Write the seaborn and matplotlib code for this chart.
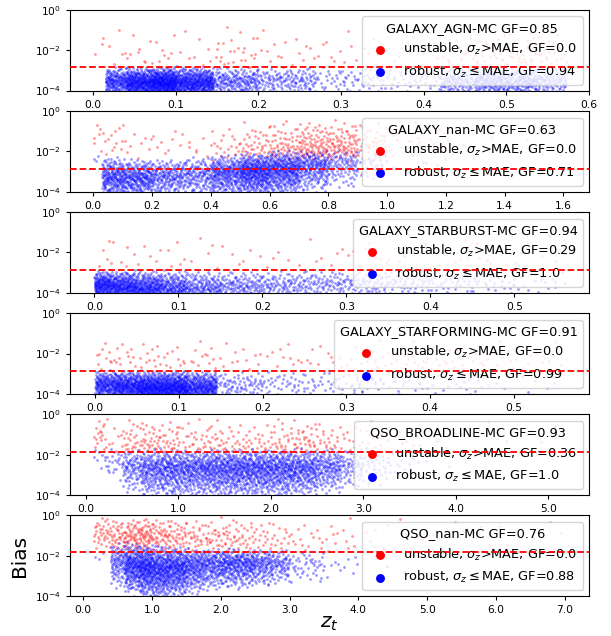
import numpy as np
import pandas as pd
import matplotlib
matplotlib.use("Agg")
import matplotlib.pyplot as plt
import seaborn as sns
from matplotlib.ticker import MultipleLocator, FormatStrFormatter

# ---------------- data (log10(bias) per z-bin) ----------------
names = ["GALAXY_AGN-MC", "GALAXY_nan-MC", "GALAXY_STARBURST-MC",
         "GALAXY_STARFORMING-MC", "QSO_BROADLINE-MC", "QSO_nan-MC"]
gf_total = ["0.85", "0.63", "0.94", "0.91", "0.93", "0.76"]
gf_unstable = ["0.0", "0.0", "0.29", "0.0", "0.36", "0.0"]
gf_robust = ["0.94", "0.71", "1.0", "0.99", "1.0", "0.88"]
mae_line = [0.0014, 0.0014, 0.0014, 0.0014, 0.014, 0.0145]

# panel 1 : GALAXY_AGN
agn_edges = [0.0, 0.015, 0.04, 0.07, 0.10, 0.145, 0.2, 0.27, 0.35, 0.42, 0.46, 0.50, 0.54, 0.572]
agn_blue_n = [0, 200, 380, 480, 500, 220, 160, 70, 50, 120, 170, 170, 90]
agn_blue_mode = [-3.5, -3.5, -3.6, -3.6, -3.6, -3.5, -3.4, -3.3, -3.3, -3.5, -3.5, -3.5, -3.5]
agn_blue_lo, agn_blue_hi = -4.6, -2.78
agn_red_n = [3, 5, 8, 8, 8, 25, 15, 15, 12, 15, 25, 30, 20]
agn_red_mode = [-1.5, -2.2, -2.5, -2.5, -2.6, -2.6, -2.5, -2.5, -2.4, -2.5, -2.5, -2.5, -2.5]
agn_red_lo, agn_red_hi = -2.85, -0.7

# panel 2 : GALAXY_nan
nan_edges = [0.0, 0.03, 0.1, 0.2, 0.3, 0.4, 0.5, 0.6, 0.7, 0.8, 0.9, 1.0, 1.2, 1.4, 1.61]
nan_blue_n = [3, 200, 260, 180, 160, 270, 400, 340, 200, 90, 30, 8, 0, 0]
nan_blue_mode = [-2.5, -3.3, -3.3, -3.2, -3.1, -3.0, -2.9, -2.8, -2.6, -2.5, -2.5, -2.6, -2.6, -2.6]
nan_blue_lo = [-2.6, -4.5, -4.5, -4.5, -4.5, -4.5, -4.5, -4.4, -4.1, -3.9, -3.6, -3.4, -3.4, -3.4]
nan_blue_hi = [-2.1, -2.2, -2.3, -2.3, -2.2, -2.1, -2.0, -1.9, -1.9, -1.9, -1.9, -2.0, -2.0, -2.0]
nan_red_n = [6, 12, 10, 8, 8, 20, 40, 60, 90, 80, 40, 25, 6, 2]
nan_red_mode = [-1.0, -1.5, -1.7, -1.8, -1.9, -2.0, -2.0, -2.0, -2.0, -1.95, -1.8, -1.7, -1.5, -1.0]
nan_red_lo, nan_red_hi = -2.5, -0.4

# panel 3 : GALAXY_STARBURST
sb_edges = [0.0, 0.02, 0.05, 0.08, 0.11, 0.15, 0.2, 0.25, 0.3, 0.35, 0.4, 0.45, 0.5, 0.565]
sb_blue_n = [220, 300, 260, 190, 170, 150, 110, 95, 80, 55, 40, 30, 20]
sb_blue_mode = [-3.6, -3.7, -3.8, -3.8, -3.8, -3.7, -3.6, -3.5, -3.5, -3.4, -3.4, -3.4, -3.4]
sb_blue_lo, sb_blue_hi = -4.6, -2.85
sb_red_n = [5, 5, 5, 5, 5, 6, 5, 6, 8, 7, 8, 8, 6]
sb_red_mode = [-2.6] * 13
sb_red_lo, sb_red_hi = -2.85, -1.0

# panel 4 : GALAXY_STARFORMING
sf_edges = [0.0, 0.02, 0.05, 0.08, 0.11, 0.145, 0.2, 0.25, 0.3, 0.35, 0.4, 0.45, 0.5, 0.56]
sf_blue_n = [180, 330, 400, 400, 330, 90, 45, 35, 28, 20, 16, 12, 6]
sf_blue_mode = [-3.5, -3.6, -3.7, -3.7, -3.7, -3.5, -3.4, -3.4, -3.3, -3.3, -3.3, -3.3, -3.3]
sf_blue_lo, sf_blue_hi = -4.6, -2.8
sf_red_n = [10, 12, 12, 10, 12, 12, 10, 10, 15, 20, 15, 15, 12]
sf_red_mode = [-2.5] * 13
sf_red_lo, sf_red_hi = -2.85, -1.2

# panel 5 : QSO_BROADLINE
bl_edges = [0.085, 0.2, 0.4, 0.6, 0.8, 1.0, 1.25, 1.5, 1.75, 2.0, 2.25, 2.5, 2.75, 3.0, 3.3, 3.6, 4.0, 4.6, 5.19]
bl_blue_n = [6, 25, 90, 150, 170, 210, 230, 240, 240, 230, 200, 140, 70, 35, 12, 2, 0, 0]
bl_blue_mode = [-2.0, -2.3, -2.5, -2.6, -2.6, -2.6, -2.6, -2.6, -2.6, -2.6, -2.6, -2.5, -2.5, -2.4, -2.4, -2.4, -2.4, -2.4]
bl_blue_lo = [-2.8, -3.3, -4.0, -4.3, -4.3, -4.3, -4.3, -4.3, -4.3, -4.3, -4.2, -4.0, -3.8, -3.6, -3.5, -3.0, -3.0, -3.0]
bl_blue_hi = -1.65
bl_red_n = [15, 10, 25, 30, 25, 20, 25, 20, 20, 25, 30, 20, 12, 10, 8, 5, 4, 4]
bl_red_mode = [-1.0, -1.6, -1.7, -1.7, -1.7, -1.7, -1.7, -1.7, -1.7, -1.6, -1.6, -1.6, -1.6, -1.6, -1.5, -1.5, -1.3, -1.0]
bl_red_lo, bl_red_hi = -1.9, -0.1

# panel 6 : QSO_nan
qn_edges = [0.15, 0.4, 0.6, 0.8, 1.0, 1.25, 1.5, 1.75, 2.0, 2.25, 2.5, 2.75, 3.0, 3.5, 4.0, 5.0, 6.0, 7.0]
qn_blue_n = [3, 90, 190, 240, 270, 240, 170, 140, 150, 140, 105, 70, 45, 10, 2, 0, 0]
qn_blue_mode = [-2.0, -2.2, -2.4, -2.5, -2.6, -2.5, -2.4, -2.3, -2.3, -2.3, -2.3, -2.3, -2.3, -2.4, -2.5, -2.5, -2.5]
qn_blue_lo = [-2.5, -3.7, -4.0, -4.2, -4.4, -4.2, -4.0, -3.8, -3.7, -3.7, -3.6, -3.5, -3.5, -3.4, -3.0, -3.0, -3.0]
qn_blue_hi = [-1.6, -1.3, -1.3, -1.35, -1.4, -1.5, -1.55, -1.6, -1.6, -1.6, -1.6, -1.65, -1.7, -1.8, -1.8, -1.8, -1.8]
qn_red_n = [35, 35, 45, 50, 45, 35, 25, 25, 25, 20, 15, 12, 15, 12, 10, 8, 6]
qn_red_mode = [-0.8, -1.1, -1.1, -1.0, -1.1, -1.2, -1.2, -1.2, -1.3, -1.3, -1.3, -1.4, -1.4, -1.3, -1.0, -0.8, -0.8]
qn_red_lo, qn_red_hi = -1.85, 0.0

panels = [
    (agn_edges, agn_blue_n, agn_blue_lo, agn_blue_mode, agn_blue_hi, agn_red_n, agn_red_lo, agn_red_mode, agn_red_hi),
    (nan_edges, nan_blue_n, nan_blue_lo, nan_blue_mode, nan_blue_hi, nan_red_n, nan_red_lo, nan_red_mode, nan_red_hi),
    (sb_edges, sb_blue_n, sb_blue_lo, sb_blue_mode, sb_blue_hi, sb_red_n, sb_red_lo, sb_red_mode, sb_red_hi),
    (sf_edges, sf_blue_n, sf_blue_lo, sf_blue_mode, sf_blue_hi, sf_red_n, sf_red_lo, sf_red_mode, sf_red_hi),
    (bl_edges, bl_blue_n, bl_blue_lo, bl_blue_mode, bl_blue_hi, bl_red_n, bl_red_lo, bl_red_mode, bl_red_hi),
    (qn_edges, qn_blue_n, qn_blue_lo, qn_blue_mode, qn_blue_hi, qn_red_n, qn_red_lo, qn_red_mode, qn_red_hi),
]


def radical_inverse(idx, base):
    idx = np.asarray(idx, dtype=np.int64).copy()
    out = np.zeros(idx.shape, float)
    f = 1.0 / base
    while np.any(idx > 0):
        out += f * (idx % base)
        idx //= base
        f /= base
    return out


def binned_cloud(edges, counts, lo, mode, hi, start):
    """Spread the read-off per-bin counts over each bin (deterministic Halton layout)."""
    nb = len(counts)
    lo = np.broadcast_to(np.asarray(lo, float), (nb,))
    mode = np.broadcast_to(np.asarray(mode, float), (nb,))
    hi = np.broadcast_to(np.asarray(hi, float), (nb,))
    xs, ys = [], []
    k = start
    for i, n in enumerate(counts):
        if n <= 0:
            continue
        j = np.arange(n) + k
        k += n + 37
        u = radical_inverse(j, 2)
        v = radical_inverse(j, 3)
        a, c, b = lo[i], mode[i], hi[i]
        fc = (c - a) / (b - a)
        ly = np.where(v < fc, a + np.sqrt(v * (b - a) * (c - a)),
                      b - np.sqrt((1 - v) * (b - a) * (b - c)))
        xs.append(edges[i] + u * (edges[i + 1] - edges[i]))
        ys.append(10.0 ** ly)
    return np.concatenate(xs), np.concatenate(ys)


xlims = [(-0.028, 0.6), (-0.079, 1.687), (-0.029, 0.589), (-0.03, 0.59), (-0.17, 5.44), (-0.19, 7.35)]
xsteps = [0.1, 0.2, 0.1, 0.1, 1.0, 1.0]

fig, axes = plt.subplots(6, 1, figsize=(6.11, 6.36), dpi=100)
fig.subplots_adjust(left=0.1146, right=0.964, top=0.9843, bottom=0.0629, hspace=0.255)

for p, ax in enumerate(axes):
    edges, bn, blo, bmode, bhi, rn, rlo, rmode, rhi = panels[p]
    rx, ry = binned_cloud(edges, rn, rlo, rmode, rhi, 11 + 3000 * p)
    bx, by = binned_cloud(edges, bn, blo, bmode, bhi, 40000 + 9000 * p)
    red_df = pd.DataFrame({"z": rx, "bias": ry})
    blue_df = pd.DataFrame({"z": bx, "bias": by})
    sns.scatterplot(data=red_df, x="z", y="bias", ax=ax, color="red", s=4, alpha=0.4,
                    linewidth=0, label=f"unstable, $\\sigma_z$>MAE, GF={gf_unstable[p]}")
    sns.scatterplot(data=blue_df, x="z", y="bias", ax=ax, color="blue", s=4, alpha=0.4,
                    linewidth=0, label=f"robust, $\\sigma_z\\leq$MAE, GF={gf_robust[p]}")
    ax.axhline(mae_line[p], color="red", ls="--", lw=1.3, zorder=10)
    ax.set_yscale("log")
    ax.set_ylim(1e-4, 1)
    ax.set_xlim(*xlims[p])
    ax.xaxis.set_major_locator(MultipleLocator(xsteps[p]))
    ax.xaxis.set_major_formatter(FormatStrFormatter("%.1f"))
    ax.tick_params(labelsize=7.7, length=3)
    ax.set_xlabel("")
    ax.set_ylabel("")
    leg = ax.legend(title=f"{names[p]} GF={gf_total[p]}", loc="upper right",
                    fontsize=9.3, title_fontsize=9.3, markerscale=3.2)
    for h in leg.legend_handles:
        h.set_alpha(1)

axes[-1].set_ylabel("Bias", fontsize=14.5)
axes[-1].set_xlabel("$z_t$", fontsize=14.5, labelpad=-1)

fig.savefig("out.png", dpi=100)
